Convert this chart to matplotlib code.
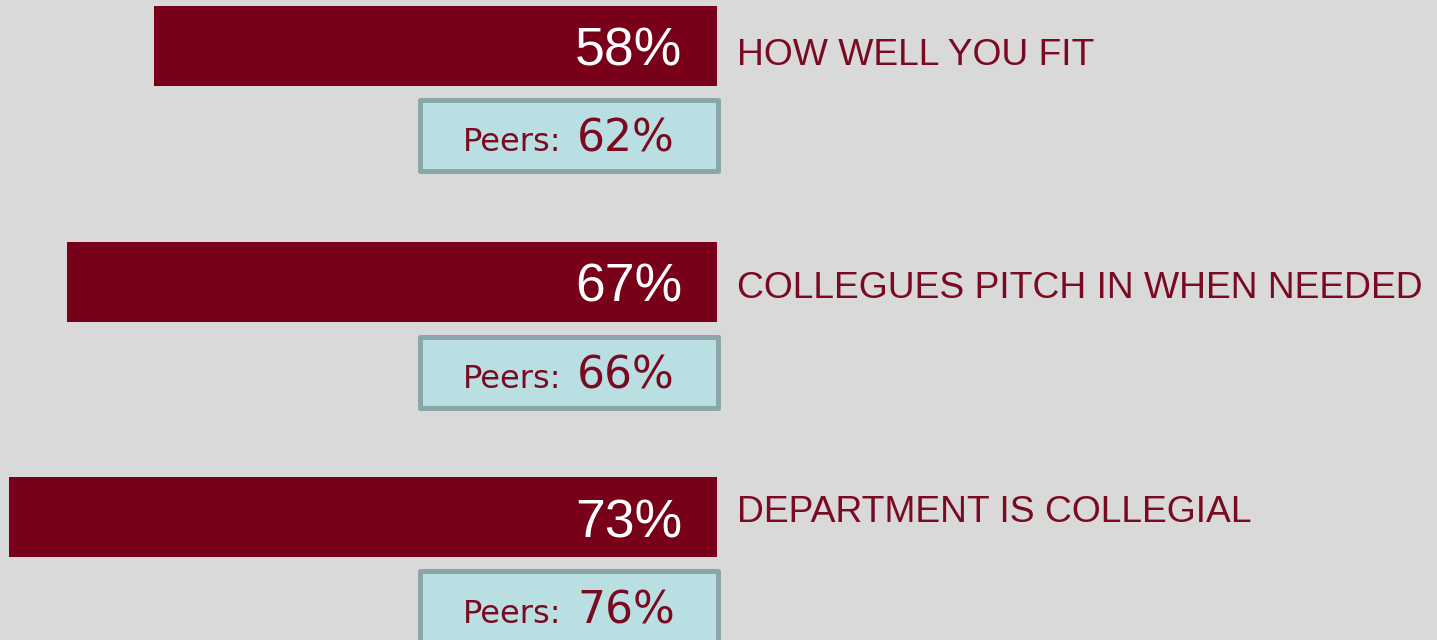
import matplotlib
matplotlib.use("Agg")
import matplotlib.pyplot as plt
from matplotlib.patches import Rectangle
from matplotlib.transforms import blended_transform_factory

# ---- data ----
categories = ["HOW WELL YOU FIT", "COLLEGUES PITCH IN WHEN NEEDED", "DEPARTMENT IS COLLEGIAL"]
scores = [58, 67, 73]
peer_scores = [62, 66, 76]

# ---- style ----
W, H = 1437, 640
BG = "#d9d9d9"
BAR = "#780019"
TXT = "#7a0a22"
BOX_FILL = "#b9dfe2"
BOX_EDGE = "#8aa6a8"
PX2PT = 0.72

fig = plt.figure(figsize=(W / 100, H / 100), dpi=100, facecolor=BG)
ax = fig.add_axes([0, 0, 1, 1])
ax.set_facecolor(BG)
ax.axis("off")

px_per_unit = 9.7
x0 = 717  # pixel where bars end (value 0)
ax.set_xlim(x0 / px_per_unit, (x0 - W) / px_per_unit)
gap = 235.5
yc0 = 46
ax.set_ylim((H - yc0) / gap, -yc0 / gap)

ypos = list(range(len(categories)))
ax.barh(ypos, scores, left=0, height=80 / gap, color=BAR, linewidth=0)

label_dy = [19, 16, 5]  # baseline offsets (px) below bar centre
box_dy = [89, 91, 90]
figx = blended_transform_factory(fig.transFigure, ax.transData)

for i, (cat, v, p) in enumerate(zip(categories, scores, peer_scores)):
    # value inside bar
    ax.annotate(f"{v}%", xy=(0, i), xytext=(-35 * PX2PT, -20 * PX2PT),
                textcoords="offset points", ha="right", va="baseline",
                color="white", fontsize=53.5 * PX2PT, family="Liberation Sans")
    # category label
    ax.annotate(cat, xy=(0, i), xytext=(20 * PX2PT, -label_dy[i] * PX2PT),
                textcoords="offset points", ha="left", va="baseline",
                color=TXT, fontsize=37.2 * PX2PT, family="Liberation Sans")
    # peers box
    bc = i + box_dy[i] / gap
    bh = 71 / gap
    rect = Rectangle((420.5 / W, bc - bh / 2), 297 / W, bh, transform=figx,
                     facecolor=BOX_FILL, edgecolor=BOX_EDGE,
                     linewidth=5 * PX2PT, joinstyle="round")
    ax.add_patch(rect)
    base = bc + 16 / gap
    ax.text(561 / W, base, "Peers:", transform=figx, ha="right", va="baseline",
            color=TXT, fontsize=32 * PX2PT, family="DejaVu Sans")
    ax.text(577 / W, base, f"{p}%", transform=figx, ha="left", va="baseline",
            color=TXT, fontsize=44 * PX2PT, family="DejaVu Sans")

fig.savefig("out.png", dpi=100, facecolor=BG)
